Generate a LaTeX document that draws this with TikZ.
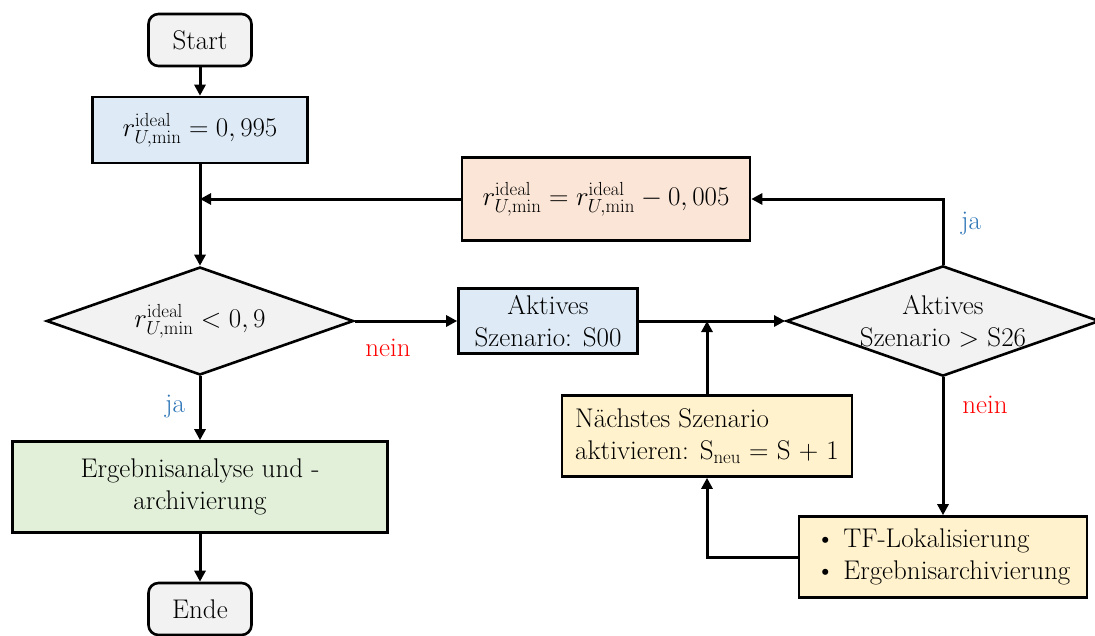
\RequirePackage{fix-cm}
\documentclass[tikz,border=0pt]{standalone}
\usepackage{amsmath}
\usetikzlibrary{shapes.geometric,arrows.meta}

\definecolor{termfill}{HTML}{F2F2F2}
\definecolor{bluefill}{HTML}{DEEBF7}
\definecolor{peachfill}{HTML}{FBE5D6}
\definecolor{yellowfill}{HTML}{FFF2CC}
\definecolor{greenfill}{HTML}{E2F0D9}
\definecolor{jablue}{HTML}{2E75B6}
\definecolor{neinred}{HTML}{FF0000}

\tikzset{
  base/.style={draw=black, line width=2.6pt, inner sep=0pt, align=center},
  terminal/.style={base, rectangle, rounded corners=10pt, fill=termfill,
    minimum width=103pt, minimum height=52pt},
  procbox/.style={base, rectangle},
  decision/.style={base, diamond, aspect=2.84, fill=termfill},
  arr/.style={line width=3pt, -{Triangle[length=11pt,width=11pt]}},
  lbl/.style={inner sep=0pt},
}

\newcommand{\rideal}{r^{\mathrm{ideal}}_{U,\min}}

\begin{document}
\begin{tikzpicture}[x=1pt, y=-1pt, font=\fontsize{27}{32}\selectfont]
  \useasboundingbox (0,0) rectangle (1095,635);

  % nodes
  \node[terminal] (start) at (200,40) {Start};
  \node[procbox, fill=bluefill, minimum width=215pt, minimum height=66pt]
    (init) at (200,130) {$\rideal = 0,995$};
  \node[procbox, fill=peachfill, minimum width=288pt, minimum height=83pt]
    (upd) at (606,199) {$\rideal = \rideal - 0,005$};
  \node[decision, minimum width=307pt, minimum height=108pt]
    (d1) at (200,321) {$\rideal < 0,9$};
  \node[procbox, fill=bluefill, minimum width=179pt, minimum height=65pt]
    (akt) at (548,321) {Aktives\\Szenario: S00};
  \node[decision, minimum width=305pt, minimum height=109pt]
    (d2) at (943,321) {Aktives\\Szenario $>$ S26};
  \node[procbox, fill=yellowfill, minimum width=290pt, minimum height=81pt, align=left]
    (next) at (707,436) {N\"achstes Szenario\\aktivieren: S\textsubscript{neu} = S + 1};
  \node[procbox, fill=greenfill, minimum width=375pt, minimum height=91pt]
    (erg) at (200,487) {Ergebnisanalyse und -\\archivierung};
  \node[procbox, fill=yellowfill, minimum width=288pt, minimum height=81pt, align=left]
    (tf) at (943,557) {\textbullet\ TF-Lokalisierung\\\textbullet\ Ergebnisarchivierung};
  \node[terminal] (ende) at (200,609) {Ende};

  % junction points on existing lines
  \coordinate (j1) at (init.south |- upd.west);
  \coordinate (j2) at (next.north |- akt.east);

  % connectors
  \draw[arr] (start) -- (init);
  \draw[arr] (init) -- (d1);
  \draw[arr] (upd.west) -- (j1);
  \draw[arr] (d2.north) |- (upd.east);
  \draw[arr] (d1.east) -- (akt.west);
  \draw[arr] (akt.east) -- (d2.west);
  \draw[arr] (next.north) -- (j2);
  \draw[arr] (d2.south) -- (tf.north);
  \draw[arr] (tf.west) -| (next.south);
  \draw[arr] (d1.south) -- (erg.north);
  \draw[arr] (erg.south) -- (ende.north);

  % branch labels
  \node[lbl, text=neinred] (l1) at (388,348) {nein};
  \node[lbl, text=jablue] (l2) at (971,224) {ja};
  \node[lbl, text=neinred] (l3) at (985,405) {nein};
  \node[lbl, text=jablue] (l4) at (175,407) {ja};
\end{tikzpicture}
\end{document}
